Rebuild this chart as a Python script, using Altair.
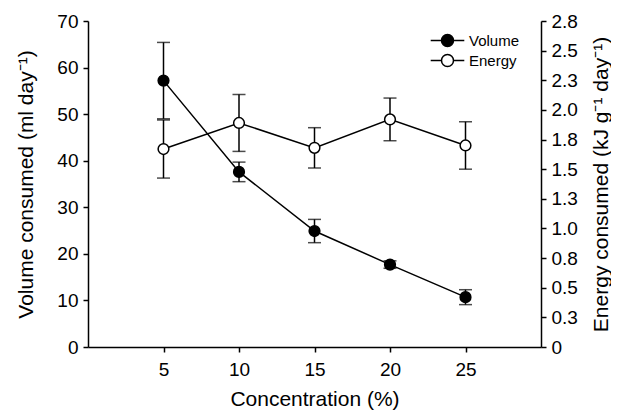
import altair as alt
import pandas as pd

# Data
concentration = [5, 10, 15, 20, 25]
volume = [57.2, 37.6, 24.9, 17.7, 10.7]
volume_err = [8.2, 2.1, 2.5, 0.8, 1.6]
energy = [1.67, 1.89, 1.68, 1.92, 1.70]
energy_err = [0.245, 0.24, 0.17, 0.18, 0.20]
series_names = ["Volume", "Energy"]
series_fills = ["black", "white"]
x_ticks = [5, 10, 15, 20, 25]
left_ticks = [0, 10, 20, 30, 40, 50, 60, 70]
right_ticks = [0, 0.25, 0.5, 0.75, 1.0, 1.25, 1.5, 1.75, 2.0, 2.25, 2.5, 2.75]

df = pd.DataFrame({
    "conc": concentration,
    "vol": volume,
    "vol_lo": [v - e for v, e in zip(volume, volume_err)],
    "vol_hi": [v + e for v, e in zip(volume, volume_err)],
    "en": energy,
    "en_lo": [v - e for v, e in zip(energy, energy_err)],
    "en_hi": [v + e for v, e in zip(energy, energy_err)],
})

FONT = "Liberation Sans"

x_enc = alt.X(
    "conc:Q",
    scale=alt.Scale(domain=[0, 30], nice=False, zero=False),
    axis=alt.Axis(values=x_ticks, title="Concentration (%)", labelPadding=8,
                  titlePadding=9),
)

y_left_scale = alt.Scale(domain=[0, 70], nice=False)
y_left_axis = alt.Axis(values=left_ticks, title="Volume consumed (ml day⁻¹)", orient="left",
                       labelPadding=5, titlePadding=20)
y_right_scale = alt.Scale(domain=[0, 2.75], nice=False)
y_right_axis = alt.Axis(values=right_ticks, title="Energy consumed (kJ g⁻¹ day⁻¹)", orient="right",
                        labelExpr="datum.value == 0 ? '0' : format(datum.value, '.1f')",
                        titleAngle=270, titleBaseline="top", labelPadding=5, titlePadding=13.5)

fill_scale = alt.Scale(domain=series_names, range=series_fills)
legend_path = "M-2.8,0H-1M1,0H2.8M1,0A1,1 0 1,1 -1,0A1,1 0 1,1 1,0Z"
legend = alt.Legend(
    title=None, orient="none", legendX=352, legendY=12,
    symbolType=legend_path, symbolSize=144, symbolStrokeColor="black",
    symbolStrokeWidth=1.5, labelOffset=14, rowPadding=1, labelFontSize=15,
    labelFont=FONT, labelColor="black", padding=0,
)

base = alt.Chart(df)


def series_layer(mid, lo, hi, name, scale, axis):
    y = alt.Y(f"{mid}:Q", scale=scale, axis=axis)
    rule = base.mark_rule(color="black", strokeWidth=1.5).encode(
        x=x_enc, y=alt.Y(f"{lo}:Q", scale=scale, axis=axis), y2=f"{hi}:Q")
    cap_lo = base.mark_tick(orient="horizontal", color="black", size=13, thickness=1.5).encode(
        x=x_enc, y=alt.Y(f"{lo}:Q", scale=scale, axis=axis))
    cap_hi = base.mark_tick(orient="horizontal", color="black", size=13, thickness=1.5).encode(
        x=x_enc, y=alt.Y(f"{hi}:Q", scale=scale, axis=axis))
    line = base.mark_line(color="black", strokeWidth=1.5).encode(x=x_enc, y=y)
    pts = base.transform_calculate(series=f"'{name}'").mark_point(
        filled=True, shape="circle", size=115, stroke="black", strokeWidth=1.5, opacity=1
    ).encode(
        x=x_enc, y=y,
        fill=alt.Fill("series:N", scale=fill_scale, legend=legend),
    )
    return alt.layer(rule, cap_lo, cap_hi, line, pts)


vol_layer = series_layer("vol", "vol_lo", "vol_hi", "Volume", y_left_scale, y_left_axis)
en_layer = series_layer("en", "en_lo", "en_hi", "Energy", y_right_scale, y_right_axis)

chart = alt.layer(vol_layer, en_layer).resolve_scale(y="independent").properties(
    width=453, height=326,
    autosize=alt.AutoSizeParams(type="none"),
    padding={"left": 80, "top": 13, "right": 70, "bottom": 63},
).configure_view(stroke=None).configure_axis(
    labelFont=FONT, titleFont=FONT, labelFontSize=19, titleFontSize=21,
    titleFontWeight="normal", labelColor="black", titleColor="black",
    domainColor="black", tickColor="black", domainWidth=1.5, tickWidth=1.5,
    tickSize=5, grid=False,
)

chart.save("out.html", embed_options={"renderer": "svg", "actions": False})
